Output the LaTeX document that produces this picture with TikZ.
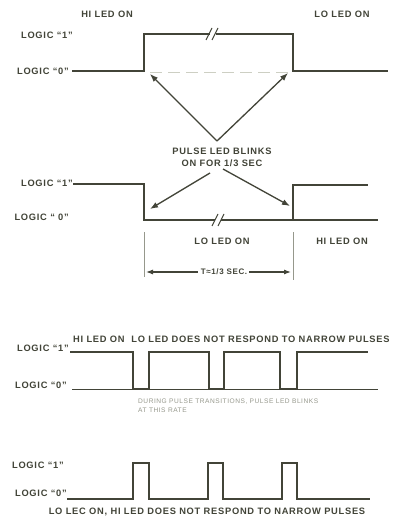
\documentclass[tikz,border=0pt]{standalone}
\usepackage{fontspec}
\setmainfont{Liberation Sans}[LetterSpace=8]
\usetikzlibrary{arrows.meta}
\definecolor{ink}{RGB}{66,68,56}
\definecolor{faint}{RGB}{150,152,140}
\definecolor{ghost}{RGB}{205,207,195}
\begin{document}
\begin{tikzpicture}[x=1pt,y=-1pt,
  lbl/.style={font=\bfseries\fontsize{9.3}{12}\selectfont, text=ink, inner sep=0pt},
  tiny/.style={font=\fontsize{6.6}{9}\selectfont, text=faint, inner sep=0pt},
  wave/.style={draw=ink, line width=1.5pt, line join=miter},
  brk/.style={draw=ink, line width=1.1pt},
  guide/.style={draw=faint, line width=0.7pt},
  arr/.style={draw=ink, line width=1.3pt, -{Latex[length=8pt,width=6pt]}},
  dim/.style={draw=ink, line width=1.1pt, -{Latex[length=7pt,width=5pt]}}]
\fill[white] (0,0) rectangle (402,521);
\useasboundingbox (0,0) rectangle (402,521);

% ---------- panel 1
\node[lbl] (hi1) at (107,14) {HI LED ON};
\node[lbl] (lo1) at (342,14) {LO LED ON};
\node[lbl, anchor=east] (l11) at (73,35) {LOGIC ``1''};
\node[lbl, anchor=east] (l10) at (69,71) {LOGIC ``0''};
\draw[wave] (72,71) -- (144,71) -- (144,34) -- (210,34);
\draw[wave] (216,34) -- (293,34) -- (293,71) -- (388,71);
\draw[brk] (206,40) -- (212,28);
\draw[brk] (212,40) -- (218,28);
\draw[ghost, dash pattern=on 12pt off 6pt, line width=0.6pt] (150,72) -- (288,72);
\coordinate (apex) at (217,141);
\coordinate (t1) at (150,74);
\coordinate (t2) at (288,73);
\draw[arr] (apex) -- (t1);
\draw[arr] (apex) -- (t2);
\node[lbl, align=center] (pulse) at (222,157) {PULSE LED BLINKS\\ON FOR 1/3 SEC};

% ---------- panel 2
\coordinate (s1) at (210,173);
\coordinate (s2) at (223,169);
\coordinate (e1) at (150,209);
\coordinate (e2) at (290,206);
\draw[arr] (s1) -- (e1);
\draw[arr] (s2) -- (e2);
\node[lbl, anchor=east] (l21) at (73,183) {LOGIC ``1''};
\node[lbl, anchor=east] (l20) at (69,217) {LOGIC `` 0''};
\draw[wave] (73,184) -- (144,184) -- (144,220) -- (215,220);
\draw[wave] (221,220) -- (378,220);
\draw[wave] (293,220) -- (293,185) -- (368,185);
\draw[brk] (212,226) -- (218,214);
\draw[brk] (218,226) -- (224,214);
\draw[guide] (144,232) -- (144,277);
\draw[guide] (293,232) -- (293,280);
\node[lbl] (lo2) at (222,241) {LO LED ON};
\node[lbl] (hi2) at (342,241) {HI LED ON};
\node[lbl, font=\bfseries\fontsize{8}{10}\selectfont] (T) at (224,272) {T≈1/3 SEC.};
\coordinate (da) at (146,272);
\coordinate (db) at (291,272);
\draw[dim] ([xshift=-3pt]T.west) -- (da);
\draw[dim] ([xshift=2pt]T.east) -- (db);

% ---------- panel 3
\node[lbl, anchor=west] (h3) at (73,339) {HI LED ON\ \ LO LED DOES NOT RESPOND TO NARROW PULSES};
\node[lbl, anchor=east] (l31) at (69,348) {LOGIC ``1''};
\node[lbl, anchor=east] (l30) at (67,385) {LOGIC ``0''};
\draw[ink, line width=0.9pt] (72,389) -- (378,389);
\draw[wave] (70,352) -- (133,352) -- (133,389) -- (149,389) -- (149,352) -- (209,352)
  -- (209,389) -- (224,389) -- (224,352) -- (280,352) -- (280,389) -- (297,389)
  -- (297,352) -- (368,352);
\node[tiny, anchor=north west, align=left] (note) at (138,399) {DURING PULSE TRANSITIONS, PULSE LED BLINKS\\AT THIS RATE};

% ---------- panel 4
\node[lbl, anchor=east] (l41) at (64,465) {LOGIC ``1''};
\node[lbl, anchor=east] (l40) at (67,493) {LOGIC ``0''};
\draw[wave] (67,499) -- (133,499) -- (133,463) -- (149,463) -- (149,499) -- (208,499)
  -- (208,463) -- (223,463) -- (223,499) -- (282,499) -- (282,463) -- (297,463)
  -- (297,499) -- (370,499);
\node[lbl] (b4) at (207,512) {LO LEC ON, HI LED DOES NOT RESPOND TO NARROW PULSES};
\end{tikzpicture}
\end{document}
